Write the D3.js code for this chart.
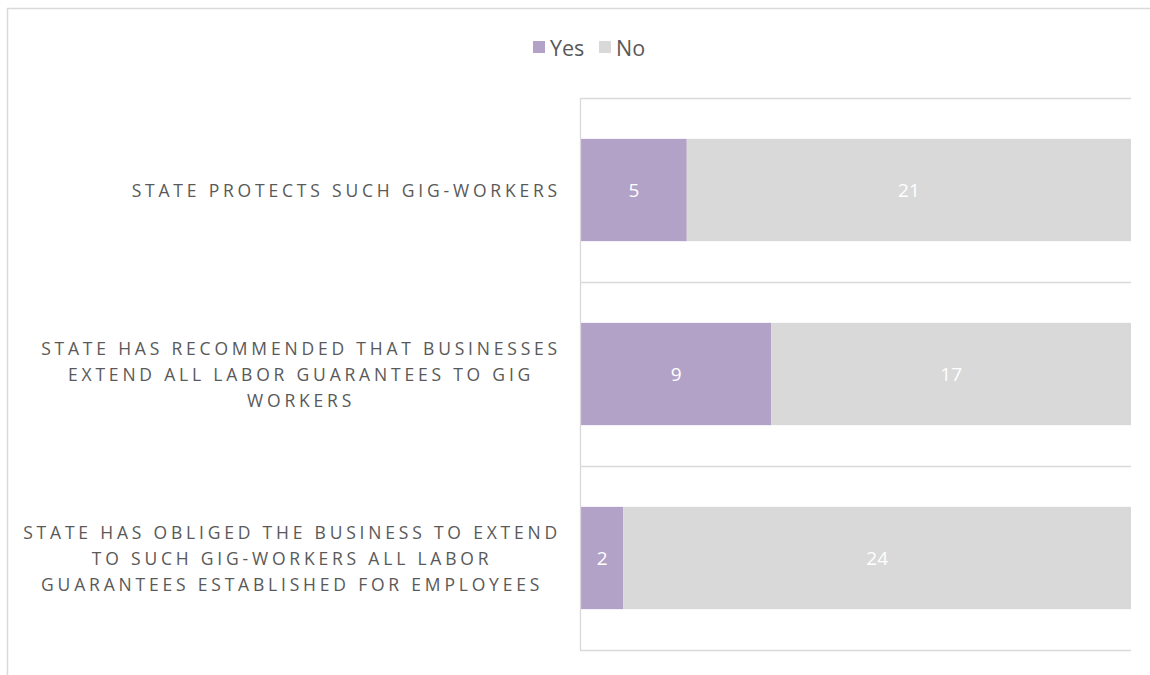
<!DOCTYPE html>
<html><head><meta charset="utf-8">
<script src="https://cdn.jsdelivr.net/npm/d3@7"></script>
<style>body{margin:0;background:#fff}svg{display:block;font-family:"Open Sans",sans-serif}</style>
</head><body><svg id="c" width="1150" height="675"></svg>
<script>
const categories = [
  "STATE PROTECTS SUCH GIG-WORKERS",
  "STATE HAS RECOMMENDED THAT BUSINESSES EXTEND ALL LABOR GUARANTEES TO GIG WORKERS",
  "STATE HAS OBLIGED THE BUSINESS TO EXTEND TO SUCH GIG-WORKERS ALL LABOR GUARANTEES ESTABLISHED FOR EMPLOYEES"
];
const categoryLines = [
  ["STATE PROTECTS SUCH GIG-WORKERS"],
  ["STATE HAS RECOMMENDED THAT BUSINESSES","EXTEND ALL LABOR GUARANTEES TO GIG","WORKERS"],
  ["STATE HAS OBLIGED THE BUSINESS TO EXTEND","TO SUCH GIG-WORKERS ALL LABOR","GUARANTEES ESTABLISHED FOR EMPLOYEES"]
];
const seriesNames = ["Yes","No"];
const yesValues = [5, 9, 2];
const noValues = [21, 17, 24];
const colors = ["#b3a2c7", "#d9d9d9"];

const svg = d3.select("#c");
const grid = "#d9d9d9";

// outer frame
svg.append("path").attr("d","M7.5,675 V8.5 H1150").attr("fill","none").attr("stroke",grid).attr("stroke-width",1.5);

const x = d3.scaleLinear().domain([0, 26]).range([581, 1131]);
const y = d3.scaleBand().domain(categories).range([98, 650]).paddingInner(0.444).paddingOuter(0.222);

// horizontal gridlines at band boundaries
const bounds = categories.map(c => y(c) - y.step()*y.paddingInner()/2).concat([650]);
svg.append("g").selectAll("line").data(bounds).join("line")
  .attr("x1",580).attr("x2",1131).attr("y1",d=>Math.round(d)+0.5).attr("y2",d=>Math.round(d)+0.5)
  .attr("stroke",grid).attr("stroke-width",1.3);

const data = categories.map((c,i)=>({c, vals:[yesValues[i], noValues[i]]}));
const stack = [];
data.forEach(d=>{ let s=0; d.vals.forEach((v,k)=>{ stack.push({c:d.c,k,x0:s,x1:s+v,v}); s+=v; }); });

svg.append("g").selectAll("rect").data(stack).join("rect")
  .attr("x",d=>x(d.x0)).attr("width",d=>x(d.x1)-x(d.x0))
  .attr("y",d=>y(d.c)).attr("height",y.bandwidth())
  .attr("fill",d=>colors[d.k]);

svg.append("g").selectAll("text").data(stack).join("text")
  .attr("x",d=>(x(d.x0)+x(d.x1))/2).attr("y",d=>y(d.c)+y.bandwidth()/2)
  .attr("text-anchor","middle").attr("dominant-baseline","central")
  .attr("fill","#fff").attr("font-size",19).text(d=>d.v);

// vertical axis line
svg.append("line").attr("x1",580.5).attr("x2",580.5).attr("y1",98).attr("y2",650).attr("stroke",grid).attr("stroke-width",1.3);

// category labels
const lab = svg.append("g").attr("fill","#595959").attr("font-size",17.5).attr("letter-spacing","3.8px");
const lineH = 26;
categoryLines.forEach((lines,i)=>{
  const cy = y(categories[i]) + y.bandwidth()/2;
  const texts = lines.map((l,j)=> lab.append("text").attr("dominant-baseline","central")
      .attr("y", cy + (j - (lines.length-1)/2)*lineH).text(l));
  const ws = texts.map(t=>t.node().getComputedTextLength());
  const bw = d3.max(ws);
  const right = 561;
  const center = right - bw/2;
  texts.forEach((t,j)=>t.attr("x", center - ws[j]/2));
});

// legend
const leg = svg.append("g").attr("font-size",21.5).attr("fill","#595959");
const legX = [533, 599];
seriesNames.forEach((n,i)=>{
  leg.append("rect").attr("x",legX[i]).attr("y",41).attr("width",12).attr("height",12).attr("fill",colors[i]);
  leg.append("text").attr("x",legX[i]+17).attr("y",47).attr("dominant-baseline","central").text(n);
});
</script></body></html>
